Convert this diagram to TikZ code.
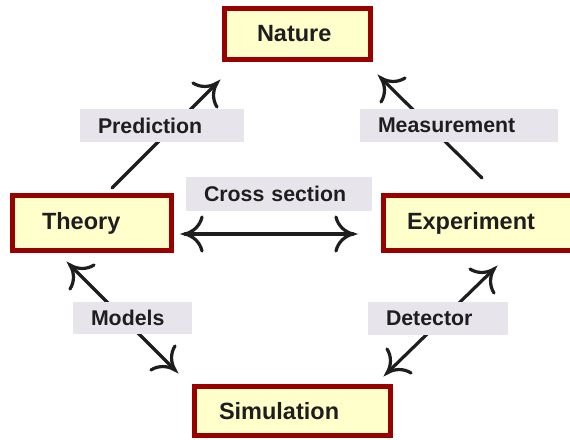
\documentclass[tikz,border=0pt]{standalone}
\usepackage{fontspec}
\setmainfont{Liberation Sans}
\definecolor{boxred}{HTML}{990000}
\definecolor{boxfill}{HTML}{FFFFCC}
\definecolor{labfill}{HTML}{E8E4EB}
\definecolor{txt}{HTML}{1E1E1E}
\tikzset{
  barbs/.pic={\draw[line width=3.2pt, draw=txt, line cap=round]
    (-17,-17) .. controls (-15,-8) and (-8,-2) .. (0,0)
    .. controls (-8,2) and (-15,8) .. (-17,17);}
}
\begin{document}
\begin{tikzpicture}[x=1pt,y=-1pt,
  mainbox/.style={draw=boxred, fill=boxfill, line width=4.7pt, text=txt,
    font=\fontsize{23.5}{28}\selectfont\bfseries, align=left, inner ysep=0pt},
  lab/.style={fill=labfill, text=txt, font=\fontsize{21.3}{26}\selectfont\bfseries,
    align=left, inner xsep=18pt, inner ysep=0pt},
  conn/.style={line width=3.2pt, draw=txt, line cap=round}]
\useasboundingbox (0,0) rectangle (570,439);
\clip (0,0) rectangle (570,439);
% main boxes
\node[mainbox, minimum width=146.3pt, minimum height=51.3pt, inner xsep=32.65pt, text width=81pt] (nature) at (297.5,34) {Nature};
\node[mainbox, minimum width=159.3pt, minimum height=55.3pt, inner xsep=29.65pt, text width=100pt] (theory) at (92,223) {Theory};
\node[mainbox, minimum width=189.3pt, minimum height=55.3pt, inner xsep=23.65pt, text width=142pt] (experiment) at (478,223) {Experiment};
\node[mainbox, minimum width=196.3pt, minimum height=49.3pt, inner xsep=24.65pt, text width=147pt] (simulation) at (292.5,411) {Simulation};
% connector ends
\coordinate (pA) at (112,188);
\coordinate (pB) at (217,83);
\coordinate (mA) at (482,178);
\coordinate (mB) at (381,78);
\coordinate (cA) at (185,234);
\coordinate (cB) at (353,234);
\coordinate (oA) at (70,265);
\coordinate (oB) at (175,370);
\coordinate (dA) at (494,269);
\coordinate (dB) at (387,373);
\draw[conn] (pA) -- (pB);
\draw[conn] (mA) -- (mB);
\draw[conn] (cA) -- (cB);
\draw[conn] (oA) -- (oB);
\draw[conn] (dA) -- (dB);
% arrow heads
\pic[rotate=45] at (pB) {barbs};
\pic[rotate=135] at (mB) {barbs};
\pic[rotate=0] at (cB) {barbs};
\pic[rotate=180] at (cA) {barbs};
\pic[rotate=135] at (oA) {barbs};
\pic[rotate=-45] at (oB) {barbs};
\pic[rotate=45] at (dA) {barbs};
\pic[rotate=-135] at (dB) {barbs};
% labels
\node[lab, minimum height=33pt, text width=128pt] (lpred) at (162,125.5) {Prediction};
\node[lab, minimum height=33pt, text width=162pt] (lmeas) at (459,125.5) {Measurement};
\node[lab, minimum height=34pt, text width=150pt] (lcross) at (279,194) {Cross section};
\node[lab, minimum height=32pt, text width=83pt] (lmod) at (132.5,318) {Models};
\node[lab, minimum height=33pt, text width=104pt] (ldet) at (438,318.5) {Detector};
\end{tikzpicture}
\end{document}
